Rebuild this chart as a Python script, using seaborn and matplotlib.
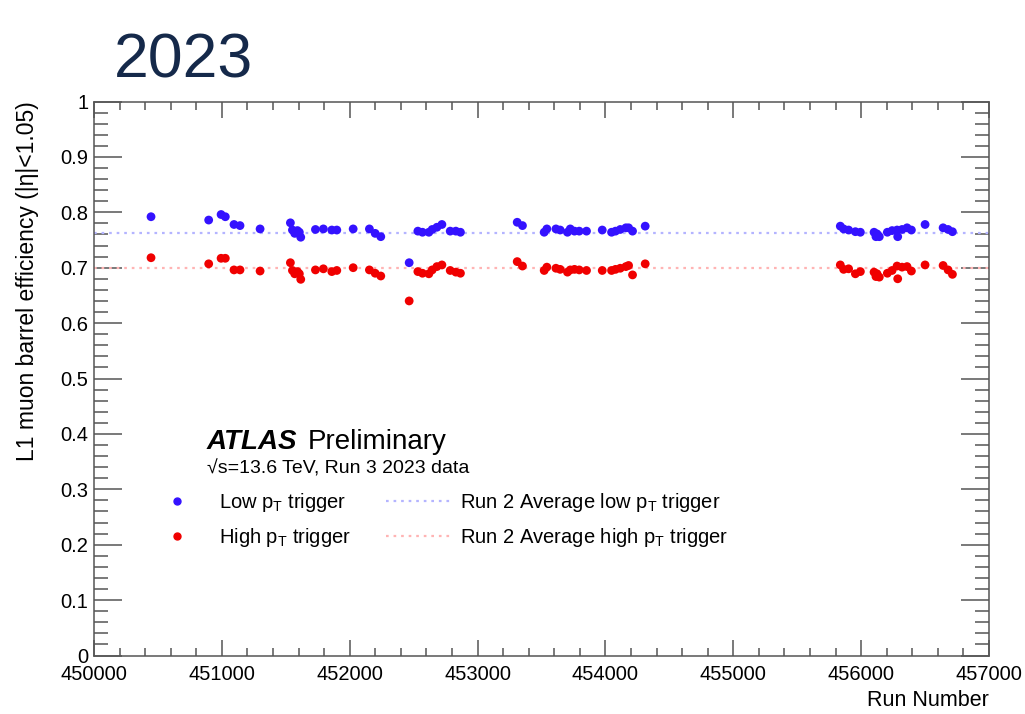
import numpy as np
import pandas as pd
import matplotlib
matplotlib.use("Agg")
import matplotlib.pyplot as plt
from matplotlib.lines import Line2D
from matplotlib.ticker import MultipleLocator
import seaborn as sns

# Run numbers of the 2023 runs
runs = [450446, 450897, 450994, 451027, 451095, 451142, 451299, 451536, 451552, 451570,
        451591, 451606, 451617, 451732, 451794, 451860, 451899, 452027, 452154, 452199,
        452243, 452465, 452533, 452569, 452619, 452645, 452682, 452721, 452786, 452830,
        452866, 453310, 453351, 453521, 453542, 453613, 453646, 453703, 453725, 453758,
        453795, 453852, 453975, 454048, 454079, 454116, 454160, 454181, 454212, 454311,
        455837, 455863, 455902, 455955, 455994, 456101, 456116, 456124, 456142, 456205,
        456242, 456281, 456286, 456320, 456359, 456393, 456500, 456641, 456680, 456714]

# L1 barrel efficiency, low-pT trigger
eff_low = [0.792, 0.786, 0.796, 0.792, 0.778, 0.776, 0.770, 0.781, 0.768, 0.762,
           0.767, 0.764, 0.755, 0.769, 0.770, 0.768, 0.768, 0.770, 0.770, 0.762,
           0.756, 0.709, 0.766, 0.764, 0.764, 0.769, 0.773, 0.778, 0.766, 0.766,
           0.764, 0.782, 0.776, 0.764, 0.770, 0.770, 0.768, 0.764, 0.770, 0.766,
           0.766, 0.766, 0.768, 0.764, 0.766, 0.769, 0.772, 0.772, 0.766, 0.775,
           0.775, 0.770, 0.768, 0.765, 0.764, 0.764, 0.756, 0.761, 0.756, 0.764,
           0.767, 0.768, 0.756, 0.769, 0.772, 0.768, 0.778, 0.772, 0.769, 0.765]

# L1 barrel efficiency, high-pT trigger
eff_high = [0.718, 0.707, 0.717, 0.717, 0.696, 0.696, 0.694, 0.709, 0.695, 0.689,
            0.693, 0.689, 0.679, 0.696, 0.698, 0.693, 0.695, 0.700, 0.696, 0.690,
            0.685, 0.640, 0.693, 0.690, 0.689, 0.696, 0.702, 0.705, 0.695, 0.692,
            0.690, 0.711, 0.703, 0.695, 0.701, 0.699, 0.697, 0.692, 0.696, 0.697,
            0.696, 0.695, 0.695, 0.695, 0.697, 0.699, 0.702, 0.704, 0.687, 0.707,
            0.705, 0.697, 0.698, 0.689, 0.693, 0.692, 0.684, 0.689, 0.683, 0.690,
            0.695, 0.703, 0.680, 0.701, 0.702, 0.694, 0.705, 0.704, 0.696, 0.688]

# Run 2 reference averages
run2_avg_low = 0.762
run2_avg_high = 0.700

series_names = ["Low p$_{\\mathrm{T}}$ trigger", "High p$_{\\mathrm{T}}$ trigger"]
avg_names = ["Run 2 Average low p$_{\\mathrm{T}}$ trigger",
             "Run 2 Average high p$_{\\mathrm{T}}$ trigger"]

BLUE = "#3412ff"
RED = "#f00000"
BLUE_AVG = "#b4b4ff"
RED_AVG = "#ffb4b4"
AXIS_GREY = "#555555"

sns.set_theme(style="ticks")
FONT = ["Liberation Sans", "DejaVu Sans"]
plt.rcParams["font.family"] = FONT
plt.rcParams["text.color"] = "black"
plt.rcParams["axes.labelcolor"] = "black"
plt.rcParams["mathtext.fontset"] = "custom"
plt.rcParams["mathtext.rm"] = "Liberation Sans"
plt.rcParams["mathtext.it"] = "Liberation Sans:italic"
plt.rcParams["mathtext.bf"] = "Liberation Sans:bold"

df = pd.DataFrame({
    "run": runs * 2,
    "eff": eff_low + eff_high,
    "trigger": [series_names[0]] * len(runs) + [series_names[1]] * len(runs),
})

W, H = 1025, 714
fig = plt.figure(figsize=(W / 100, H / 100), dpi=100)
ax_l, ax_r, ax_t, ax_b = 94, 989, 101.5, 655.5
ax = fig.add_axes([ax_l / W, 1 - ax_b / H, (ax_r - ax_l) / W, (ax_b - ax_t) / H])

# Run 2 reference lines
ax.axhline(run2_avg_low, color=BLUE_AVG, lw=1.6, ls=(0, (1.2, 2.2)), zorder=1)
ax.axhline(run2_avg_high, color=RED_AVG, lw=1.6, ls=(0, (1.2, 2.2)), zorder=1)

sns.scatterplot(data=df, x="run", y="eff", hue="trigger",
                palette={series_names[0]: BLUE, series_names[1]: RED},
                s=40, linewidth=0, legend=False, ax=ax, zorder=3)

ax.set_xlim(450000, 457000)
ax.set_ylim(0, 1)
ax.xaxis.set_major_locator(MultipleLocator(1000))
ax.xaxis.set_minor_locator(MultipleLocator(200))
ax.yaxis.set_minor_locator(MultipleLocator(0.02))
ax.set_yticks(np.arange(0, 1.01, 0.1))
ax.set_yticklabels(["0", "0.1", "0.2", "0.3", "0.4", "0.5", "0.6", "0.7", "0.8", "0.9", "1"])

for s in ax.spines.values():
    s.set_visible(True)
    s.set_color(AXIS_GREY)
    s.set_linewidth(1.1)

ax.tick_params(which="both", direction="in", top=True, right=True,
               color=AXIS_GREY, width=1.1, labelsize=14.5, labelcolor="black")
ax.tick_params(axis="y", which="major", length=20, pad=4)
ax.tick_params(axis="y", which="minor", length=10)
ax.tick_params(axis="x", which="major", length=11.5, pad=7)
ax.tick_params(axis="x", which="minor", length=6)

ax.set_xlabel("Run Number", fontsize=15.5, loc="right")
ax.xaxis.set_label_coords(1.0, -0.062)
ax.xaxis.label.set_va("top")
ax.set_ylabel("L1 muon barrel efficiency (|η|<1.05)", fontsize=16.5, loc="top")
ax.yaxis.set_label_coords(-0.062, 1.0)

# Experiment label
fig.text(207 / W, 1 - 449 / H, "ATLAS", fontsize=20, fontweight="bold",
         fontstyle="italic", va="baseline", ha="left")
fig.text(308 / W, 1 - 449 / H, "Preliminary", fontsize=20, va="baseline", ha="left")
fig.text(207 / W, 1 - 474 / H, "√s=13.6 TeV, Run 3 2023 data", fontsize=14,
         va="baseline", ha="left")

# Legend in two columns
handles = [
    Line2D([], [], ls="", marker="o", ms=5, color=BLUE, mec=BLUE),
    Line2D([], [], ls="", marker="o", ms=5, color=RED, mec=RED),
    Line2D([], [], ls=(0, (1.2, 2.2)), lw=1.6, color=BLUE_AVG),
    Line2D([], [], ls=(0, (1.2, 2.2)), lw=1.6, color=RED_AVG),
]
labels = [series_names[0], series_names[1], avg_names[0], avg_names[1]]
leg = fig.legend(handles, labels, ncol=2, frameon=False, fontsize=14.5,
                 loc="upper left", bbox_to_anchor=(144 / W, 1 - 491 / H),
                 handlelength=3.25, handletextpad=0.45, columnspacing=1.75,
                 labelspacing=0.6, borderpad=0, borderaxespad=0)

# Year heading
fig.text(114 / W, 1 - 78 / H, "2023", fontsize=45, color="#15294a",
         va="baseline", ha="left")

fig.savefig("out.png", dpi=100)
